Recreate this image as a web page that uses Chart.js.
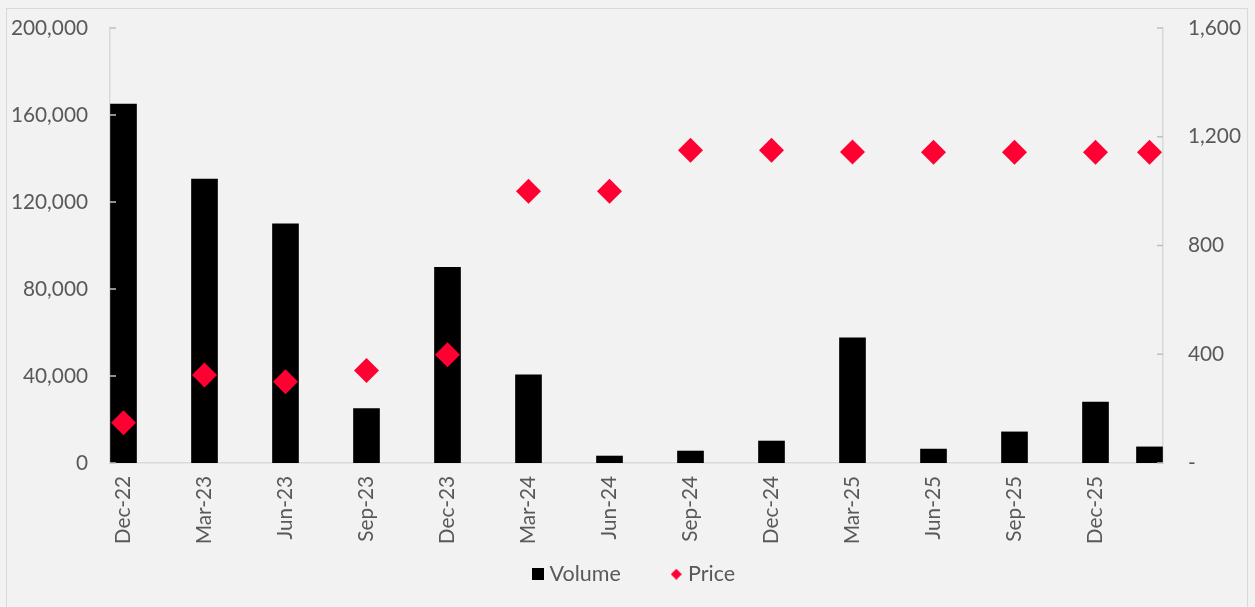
<!DOCTYPE html>
<html>
<head>
<meta charset="utf-8">
<script src="https://cdn.jsdelivr.net/npm/chart.js@4"></script>
<style>
  html, body { margin: 0; padding: 0; background: #f2f2f2; }
  body { width: 1255px; height: 607px; position: relative; overflow: hidden; }
  #frame { position: absolute; left: 6px; top: 8px; width: 1240px; height: 640px; border: 1.5px solid #d9d9d9; }
  #wrap { position: absolute; left: 0; top: 0; width: 1255px; height: 607px; }
</style>
</head>
<body>
<div id="frame"></div>
<div id="wrap"><canvas id="volumeChart"></canvas></div>
<script>
// Chart data
const periods = ["Dec-22", "Mar-23", "Jun-23", "Sep-23", "Dec-23", "Mar-24", "Jun-24",
                 "Sep-24", "Dec-24", "Mar-25", "Jun-25", "Sep-25", "Dec-25", "Feb-26"];
const tickLabels = ["Dec-22", "Mar-23", "Jun-23", "Sep-23", "Dec-23", "Mar-24", "Jun-24",
                    "Sep-24", "Dec-24", "Mar-25", "Jun-25", "Sep-25", "Dec-25"];
const volume = [165000, 130500, 110000, 25000, 90000, 40500, 3200,
                5500, 10100, 57500, 6400, 14300, 28000, 7400];
const price = [148, 324, 299, 340, 398, 1000, 1000,
               1150, 1150, 1144, 1143, 1143, 1143, 1143];

const monthNames = ["Jan", "Feb", "Mar", "Apr", "May", "Jun", "Jul", "Aug", "Sep", "Oct", "Nov", "Dec"];

// months since Dec-22, so the x axis keeps real date spacing
function monthOffset(label) {
    const parts = label.split("-");
    return (parseInt(parts[1], 10) - 22) * 12 + monthNames.indexOf(parts[0]) - 11;
}

const labelColor = "#595959";
const axisColor = "#d9d9d9";
Chart.defaults.font.family = "Lato, 'Open Sans', sans-serif";
Chart.defaults.font.size = 20.8;
Chart.defaults.color = labelColor;

// legend markers: black square, small red diamond
function legendIcon(kind) {
    const c = document.createElement("canvas");
    const s = kind === "square" ? 12 : 11;
    c.width = s; c.height = s;
    const g = c.getContext("2d");
    if (kind === "square") {
        g.fillStyle = "#000000";
        g.fillRect(0, 0, s, s);
    } else {
        g.fillStyle = "#ff0033";
        g.beginPath();
        g.moveTo(s / 2, 0); g.lineTo(s, s / 2); g.lineTo(s / 2, s); g.lineTo(0, s / 2);
        g.closePath();
        g.fill();
    }
    return c;
}
const volumeIcon = legendIcon("square");
const priceIcon = legendIcon("diamond");

const innerTicks = {
    id: "innerTicks",
    afterLayout(chart) {
        // let the tick labels spill past their boxes (they get clipped otherwise)
        chart.scales.y.left = 0;
        chart.scales.x.bottom = 560;
    },
    // short tick marks that point into the plot, like the original
    afterDatasetsDraw(chart) {
        const ctx = chart.ctx;
        ctx.save();
        ctx.strokeStyle = "#bfbfbf";
        ctx.lineWidth = 1.5;
        ["y", "y1"].forEach(function (id) {
            const scale = chart.scales[id];
            const x = id === "y" ? scale.right : scale.left;
            const dir = id === "y" ? 1 : -1;
            scale.ticks.forEach(function (t) {
                const y = scale.getPixelForValue(t.value);
                ctx.beginPath();
                ctx.moveTo(x, y);
                ctx.lineTo(x + dir * 6, y);
                ctx.stroke();
            });
        });
        ctx.restore();
    }
};

function noPad(axis) {
    axis.paddingTop = 0; axis.paddingBottom = 0;
    axis.paddingLeft = 0; axis.paddingRight = 0;
}

const xs = periods.map(monthOffset);

const ctx = document.getElementById("volumeChart").getContext("2d");
const volumeChart = new Chart(ctx, {
    type: "bar",
    data: {
        datasets: [
            {
                type: "bar",
                label: "Volume",
                backgroundColor: "#000000",
                data: volume.map((v, i) => ({ x: xs[i], y: v })),
                barThickness: 26,
                yAxisID: "y",
                order: 1
            },
            {
                type: "line",
                label: "Price",
                showLine: false,
                pointStyle: "rectRot",
                pointRadius: 12.5,
                pointHoverRadius: 12.5,
                pointBackgroundColor: "#ff0033",
                pointBorderWidth: 0,
                borderColor: "#ff0033",
                data: price.map((v, i) => ({ x: xs[i], y: v })),
                yAxisID: "y1",
                order: 0
            }
        ]
    },
    options: {
        responsive: true,
        maintainAspectRatio: false,
        animation: false,
        layout: { padding: { top: 28, left: 17, right: 0, bottom: 12 } },
        scales: {
            x: {
                type: "linear",
                offset: false,
                min: -0.5,
                max: 38.5,
                grid: { display: false, drawTicks: false },
                border: { display: true, color: axisColor, width: 1.5 },
                afterBuildTicks: function (axis) {
                    axis.ticks = tickLabels.map(l => ({ value: monthOffset(l) }));
                },
                afterFit: function (axis) { axis.height = 46; noPad(axis); },
                ticks: {
                    minRotation: 90,
                    maxRotation: 90,
                    padding: 13,
                    autoSkip: false,
                    callback: function (value) {
                        const i = tickLabels.findIndex(l => monthOffset(l) === value);
                        return i >= 0 ? tickLabels[i] : "";
                    }
                }
            },
            y: {
                position: "left",
                min: 0,
                max: 200000,
                grid: { display: false, drawTicks: false },
                border: { display: true, color: axisColor, width: 1.5 },
                afterFit: function (axis) { axis.width = 93; noPad(axis); },
                ticks: {
                    stepSize: 40000,
                    padding: 22,
                    callback: v => v.toLocaleString("en-US")
                }
            },
            y1: {
                position: "right",
                min: 0,
                max: 1600,
                grid: { display: false, drawTicks: false },
                border: { display: true, color: axisColor, width: 1.5 },
                afterFit: function (axis) { axis.width = 92; noPad(axis); },
                ticks: {
                    stepSize: 400,
                    padding: 25,
                    callback: v => v === 0 ? "-" : v.toLocaleString("en-US")
                }
            }
        },
        plugins: {
            tooltip: { enabled: false },
            legend: {
                position: "bottom",
                labels: {
                    usePointStyle: true,
                    boxWidth: 2,
                    boxHeight: 2,
                    padding: 54.5,
                    color: labelColor,
                    font: { size: 21.5 },
                    generateLabels: function () {
                        return [
                            { text: "Volume", pointStyle: volumeIcon, fillStyle: "#000", strokeStyle: "#000", lineWidth: 0, datasetIndex: 0, fontColor: labelColor },
                            { text: "Price", pointStyle: priceIcon, fillStyle: "#ff0033", strokeStyle: "#ff0033", lineWidth: 0, datasetIndex: 1, fontColor: labelColor }
                        ];
                    }
                }
            }
        }
    },
    plugins: [innerTicks]
});
</script>
</body>
</html>
